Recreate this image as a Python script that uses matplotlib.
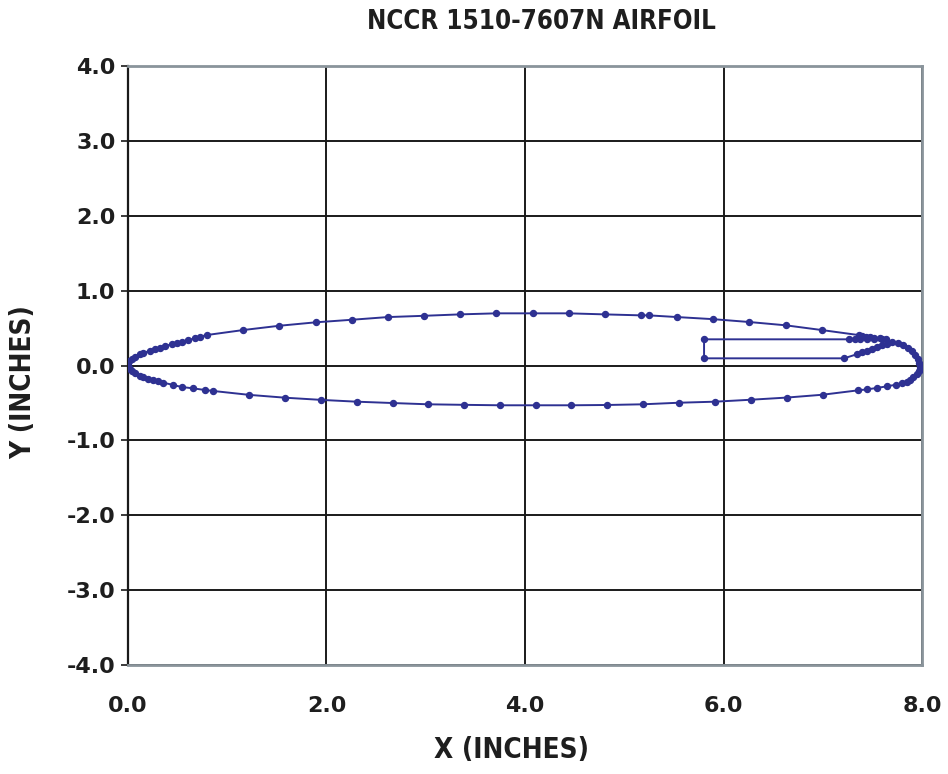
import matplotlib
matplotlib.use("Agg")
import matplotlib.pyplot as plt
from matplotlib import font_manager

# NCCR 1510-7607N airfoil coordinates (inches)
# upper surface, leading edge -> slot lip
upper_x = [0.0, 0.003, 0.015, 0.037, 0.071, 0.121, 0.154, 0.222, 0.272, 0.322,
           0.373, 0.440, 0.490, 0.541, 0.608, 0.675, 0.725, 0.793, 1.162, 1.524,
           1.891, 2.254, 2.617, 2.982, 3.345, 3.711, 4.078, 4.440, 4.803, 5.166,
           5.246, 5.535, 5.897, 6.260, 6.627, 6.989, 7.360, 7.400, 7.440, 7.480,
           7.520, 7.580, 7.640, 7.600, 7.520, 7.450, 7.380, 7.320, 7.260]
upper_y = [0.0, 0.029, 0.055, 0.083, 0.118, 0.149, 0.171, 0.194, 0.216, 0.238,
           0.260, 0.283, 0.305, 0.318, 0.340, 0.363, 0.385, 0.407, 0.474, 0.531,
           0.577, 0.611, 0.647, 0.664, 0.683, 0.697, 0.697, 0.697, 0.683, 0.670,
           0.670, 0.647, 0.619, 0.581, 0.537, 0.474, 0.407, 0.398, 0.385, 0.378,
           0.370, 0.363, 0.358, 0.357, 0.356, 0.355, 0.353, 0.352, 0.350]

# blowing slot / plenum
slot_x = [5.804, 5.804, 7.214]
slot_y = [0.350, 0.096, 0.096]

# Coanda surface and rounded trailing edge
coanda_x = [7.342, 7.392, 7.442, 7.493, 7.543, 7.594, 7.644, 7.700, 7.760, 7.810,
            7.860, 7.900, 7.930, 7.955, 7.972, 7.980, 7.970, 7.945, 7.910, 7.875]
coanda_y = [0.150, 0.176, 0.198, 0.220, 0.243, 0.268, 0.292, 0.308, 0.296, 0.272,
            0.238, 0.195, 0.145, 0.090, 0.035, -0.020, -0.072, -0.118, -0.158, -0.192]

# lower surface, trailing edge -> leading edge
lower_x = [7.846, 7.795, 7.738, 7.650, 7.543, 7.449, 7.358, 6.999, 6.637, 6.274,
           5.914, 5.549, 5.186, 4.829, 4.467, 4.108, 3.745, 3.382, 3.026, 2.667,
           2.304, 1.948, 1.585, 1.222, 0.860, 0.776, 0.658, 0.541, 0.457, 0.356,
           0.306, 0.255, 0.205, 0.154, 0.121, 0.071, 0.040, 0.020, 0.005, 0.0]
lower_y = [-0.220, -0.237, -0.256, -0.277, -0.300, -0.318, -0.331, -0.390, -0.428, -0.457,
           -0.483, -0.497, -0.518, -0.527, -0.531, -0.531, -0.531, -0.525, -0.518, -0.501,
           -0.483, -0.459, -0.430, -0.392, -0.340, -0.327, -0.305, -0.287, -0.260, -0.229,
           -0.211, -0.194, -0.176, -0.158, -0.140, -0.104, -0.075, -0.050, -0.020, 0.0]

x_ticks = [0, 2, 4, 6, 8]
y_ticks = [-4, -3, -2, -1, 0, 1, 2, 3, 4]

xs = upper_x + slot_x + coanda_x + lower_x
ys = upper_y + slot_y + coanda_y + lower_y

# condensed face for the titles if it is there
names = {f.name for f in font_manager.fontManager.ttflist}
cond = "DejaVu Sans Condensed" if "DejaVu Sans Condensed" in names else "DejaVu Sans"
lab_kw = dict(family=cond, fontstretch="condensed", fontweight="bold", color="#1e1e1e")

navy = "#2e3192"
gray = "#8a949b"

fig = plt.figure(figsize=(9.48, 7.74), dpi=100)
ax = fig.add_axes([0.135, 0.1408, 0.8376, 0.7739])

ax.plot(xs, ys, color=navy, lw=1.4, marker="o", ms=4.3, zorder=3)

ax.set_xlim(0, 8)
ax.set_ylim(-4, 4)
ax.set_xticks(x_ticks)
ax.set_yticks(y_ticks)
ax.set_xticklabels([f"{v:.1f}" for v in x_ticks])
ax.set_yticklabels([f"{v:.1f}" for v in y_ticks])
ax.grid(True, color="#1a1a1a", lw=1.4)
ax.set_axisbelow(True)

for side in ["top", "right", "bottom"]:
    ax.spines[side].set_color(gray)
    ax.spines[side].set_linewidth(2)
ax.spines["left"].set_color("#1a1a1a")
ax.spines["left"].set_linewidth(1.6)

ax.tick_params(axis="y", direction="out", length=5, width=1.2, color="#1a1a1a", pad=4)
ax.tick_params(axis="x", length=0, pad=22)
for lab in ax.get_xticklabels() + ax.get_yticklabels():
    lab.set_family(["DejaVu Sans"])
    lab.set_fontweight("bold")
    lab.set_fontsize(16)
    lab.set_color("#1e1e1e")

fig.text(541 / 948, 1 - 22 / 774, "NCCR 1510-7607N AIRFOIL", fontsize=18.5,
         ha="center", va="center", **lab_kw)
fig.text(511 / 948, 1 - 750 / 774, "X (INCHES)", fontsize=20,
         ha="center", va="center", **lab_kw)
fig.text(23 / 948, 1 - 382 / 774, "Y (INCHES)", fontsize=20, rotation=90,
         ha="center", va="center", **lab_kw)

fig.savefig("out.png", dpi=100)
